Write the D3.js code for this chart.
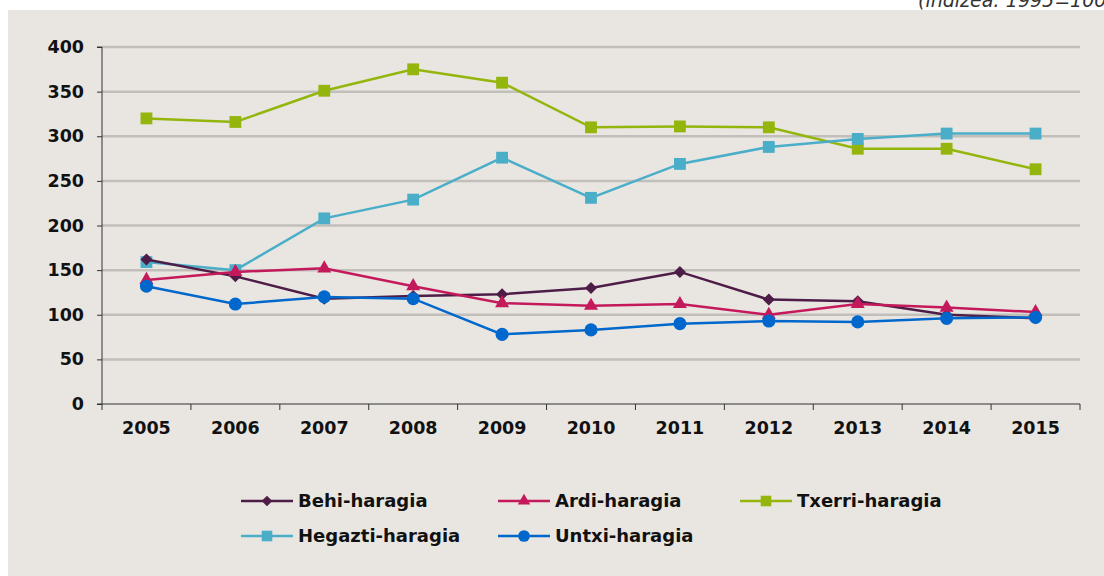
<!DOCTYPE html>
<html>
<head>
<meta charset="utf-8">
<script src="https://cdn.jsdelivr.net/npm/d3@7"></script>
<style>
  html, body { margin: 0; padding: 0; background: #fff; }
  svg { display: block; font-family: "DejaVu Sans", sans-serif; }
  .tick text { font-family: "DejaVu Sans", sans-serif; font-weight: 700; font-size: 17.5px; fill: #111; }
</style>
</head>
<body>
<svg id="chart" width="1104" height="576"></svg>
<script>
const years = ["2005","2006","2007","2008","2009","2010","2011","2012","2013","2014","2015"];
const yTicks = [0, 50, 100, 150, 200, 250, 300, 350, 400];

const behi    = [162, 143, 118, 121, 123, 130, 148, 117, 115, 100, 96];
const ardi    = [139, 148, 152, 132, 113, 110, 112, 100, 112, 108, 103];
const txerri  = [320, 316, 351, 375, 360, 310, 311, 310, 286, 286, 263];
const hegazti = [159, 150, 208, 229, 276, 231, 269, 288, 297, 303, 303];
const untxi   = [132, 112, 120, 118, 78, 83, 90, 93, 92, 96, 97];

// rot: rotate the symbol (a square turned 45deg gives the diamond)
const series = [
  {name: "Behi-haragia",    values: behi,    color: "#4d1d47", symbol: d3.symbolSquare,   size: 72,  rot: 45},
  {name: "Ardi-haragia",    values: ardi,    color: "#c41a5c", symbol: d3.symbolTriangle, size: 85,  rot: 0},
  {name: "Txerri-haragia",  values: txerri,  color: "#93b50c", symbol: d3.symbolSquare,   size: 140, rot: 0},
  {name: "Hegazti-haragia", values: hegazti, color: "#4aaec8", symbol: d3.symbolSquare,   size: 140, rot: 0},
  {name: "Untxi-haragia",   values: untxi,   color: "#0068cc", symbol: d3.symbolCircle,   size: 135, rot: 0}
];

const svg = d3.select("#chart");

// panel background
svg.append("rect")
  .attr("x", 8).attr("y", 10)
  .attr("width", 1096).attr("height", 566)
  .attr("fill", "#e9e6e2");

// subtitle, partly cropped at the top as in the source
svg.append("text")
  .attr("x", 918).attr("y", 7)
  .attr("font-size", 19)
  .attr("font-style", "italic")
  .attr("fill", "#333")
  .text("(indizea: 1995=100)");

const plotLeft = 102, plotRight = 1080, plotTop = 47, plotBottom = 404;

const x = d3.scaleBand().domain(years).range([plotLeft, plotRight]);
const y = d3.scaleLinear().domain([0, 400]).range([plotBottom, plotTop]);

// gridlines
svg.append("g")
  .selectAll("line")
  .data(yTicks.filter(d => d > 0))
  .join("line")
  .attr("x1", plotLeft).attr("x2", plotRight)
  .attr("y1", d => y(d)).attr("y2", d => y(d))
  .attr("stroke", "#c2bfbb")
  .attr("stroke-width", 2.5);

// y axis
const yAxis = svg.append("g")
  .attr("transform", `translate(${plotLeft},0)`)
  .call(d3.axisLeft(y).tickValues(yTicks).tickSize(5).tickPadding(13));
yAxis.selectAll("path, line").attr("stroke", "#333");
yAxis.select(".domain").attr("d", `M-5,${plotBottom}H0V${plotTop}H-5`);

// x axis with boundary ticks
const xAxis = svg.append("g")
  .attr("transform", `translate(0,${plotBottom})`)
  .call(d3.axisBottom(x).tickSize(0).tickPadding(18));
xAxis.select(".domain").attr("stroke", "#333").attr("d", `M${plotLeft},0H${plotRight}V6`);
xAxis.selectAll(".tick line").remove();
xAxis.selectAll(".tick").append("line")
  .attr("x1", -x.bandwidth() / 2).attr("x2", -x.bandwidth() / 2)
  .attr("y1", 0).attr("y2", 6)
  .attr("stroke", "#333");
xAxis.selectAll(".tick text").attr("dy", "0.71em");

const cx = (d, i) => x(years[i]) + x.bandwidth() / 2;
const line = d3.line().x(cx).y(d => y(d));

// draw in the original stacking order
const order = [2, 3, 0, 1, 4];
order.forEach(k => {
  const s = series[k];
  const g = svg.append("g");
  g.append("path")
    .attr("d", line(s.values))
    .attr("fill", "none")
    .attr("stroke", s.color)
    .attr("stroke-width", 2.5);
  g.selectAll("path.m")
    .data(s.values)
    .join("path")
    .attr("class", "m")
    .attr("transform", (d, i) => `translate(${cx(d, i)},${y(d)}) rotate(${s.rot})`)
    .attr("d", d3.symbol(s.symbol, s.size))
    .attr("fill", s.color);
});

// legend
const legendPos = [
  {x: 241, y: 501}, {x: 498, y: 501}, {x: 740, y: 501},
  {x: 241, y: 536}, {x: 498, y: 536}
];
series.forEach((s, i) => {
  const p = legendPos[i];
  const g = svg.append("g").attr("transform", `translate(${p.x},${p.y})`);
  g.append("line")
    .attr("x1", 0).attr("x2", 52)
    .attr("stroke", s.color).attr("stroke-width", 2.5);
  g.append("path")
    .attr("transform", `translate(26,0) rotate(${s.rot})`)
    .attr("d", d3.symbol(s.symbol, s.size * 0.8))
    .attr("fill", s.color);
  g.append("text")
    .attr("x", 57).attr("y", 0)
    .attr("dy", "0.35em")
    .attr("font-size", 18)
    .attr("font-weight", 700)
    .attr("fill", "#111")
    .text(s.name);
});
</script>
</body>
</html>
